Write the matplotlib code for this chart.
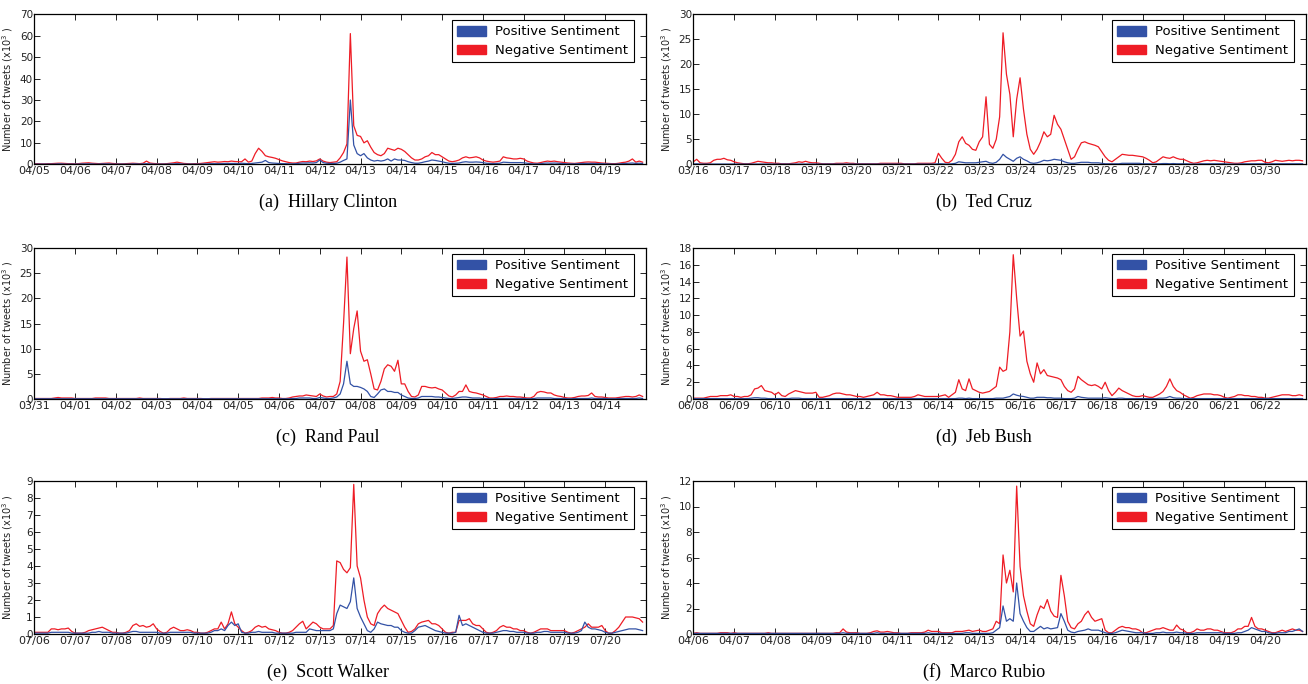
import numpy as np
import matplotlib
matplotlib.use("Agg")
import matplotlib.pyplot as plt
from matplotlib.patches import Patch

# ---------------- data (2-hour bins, 12 per day, 15 days) ----------------
clinton_days = ["04/05", "04/06", "04/07", "04/08", "04/09", "04/10", "04/11", "04/12",
                "04/13", "04/14", "04/15", "04/16", "04/17", "04/18", "04/19"]
clinton_neg = [
    0.3, 0.3, 0.2, 0.2, 0.3, 0.3, 0.4, 0.5, 0.5, 0.4, 0.3, 0.3,
    0.2, 0.3, 0.5, 0.6, 0.7, 0.5, 0.4, 0.3, 0.4, 0.5, 0.6, 0.4,
    0.3, 0.2, 0.2, 0.3, 0.4, 0.5, 0.4, 0.3, 0.5, 1.5, 0.6, 0.4,
    0.3, 0.2, 0.2, 0.3, 0.5, 0.7, 1.0, 0.7, 0.4, 0.3, 0.2, 0.3,
    0.3, 0.4, 0.6, 0.8, 1.0, 1.2, 1.0, 1.1, 1.3, 1.2, 1.5, 1.3,
    1.2, 1.2, 2.5, 1.0, 1.5, 5.0, 7.5, 6.0, 4.0, 3.5, 3.2, 2.8,
    2.2, 1.6, 1.2, 0.8, 0.6, 0.6, 1.0, 1.3, 1.2, 1.5, 1.3, 1.6,
    2.5, 1.5, 1.0, 0.8, 1.0, 1.2, 3.0, 5.5, 9.5, 61.0, 18.0, 13.5,
    13.0, 10.0, 11.0, 8.0, 5.5, 4.5, 4.0, 5.0, 7.5, 7.0, 6.5, 7.5,
    7.0, 6.0, 4.5, 3.0, 2.0, 2.0, 2.5, 3.5, 4.0, 5.5, 4.5, 4.5,
    3.5, 2.5, 1.5, 1.2, 1.5, 2.0, 3.0, 3.5, 3.0, 3.2, 3.5, 3.0,
    2.0, 1.5, 1.2, 1.0, 1.2, 1.5, 3.5, 3.0, 2.8, 2.5, 2.5, 2.8,
    2.5, 1.5, 1.0, 0.6, 0.5, 0.8, 1.2, 1.5, 1.3, 1.5, 1.2, 1.0,
    0.8, 0.6, 0.5, 0.4, 0.6, 0.8, 1.0, 1.1, 1.0, 1.0, 0.8, 0.6,
    0.5, 0.4, 0.3, 0.3, 0.5, 0.8, 1.0, 1.5, 2.5, 1.0, 1.5, 1.0,
]
clinton_pos = [
    0.1, 0.1, 0.1, 0.1, 0.1, 0.1, 0.1, 0.2, 0.2, 0.1, 0.1, 0.1,
    0.1, 0.1, 0.2, 0.2, 0.2, 0.2, 0.1, 0.1, 0.2, 0.2, 0.2, 0.1,
    0.1, 0.1, 0.1, 0.1, 0.1, 0.2, 0.2, 0.1, 0.2, 0.3, 0.2, 0.1,
    0.1, 0.1, 0.1, 0.1, 0.2, 0.2, 0.3, 0.2, 0.1, 0.1, 0.1, 0.1,
    0.1, 0.1, 0.2, 0.2, 0.3, 0.3, 0.3, 0.3, 0.4, 0.4, 0.4, 0.4,
    0.3, 0.5, 0.4, 0.3, 0.4, 0.6, 0.8, 1.0, 1.8, 0.8, 0.6, 0.5,
    0.4, 0.3, 0.3, 0.2, 0.2, 0.3, 0.5, 0.6, 0.6, 0.7, 0.6, 0.8,
    2.0, 0.8, 0.5, 0.4, 0.4, 0.5, 1.0, 1.8, 2.5, 30.0, 9.0, 5.0,
    4.0, 5.0, 3.0, 2.0, 1.5, 1.8, 1.5, 1.8, 2.5, 1.5, 2.5, 2.0,
    2.0, 1.8, 1.2, 0.8, 0.5, 0.5, 0.8, 1.2, 1.5, 2.0, 1.8, 1.5,
    1.2, 0.8, 0.5, 0.4, 0.5, 0.6, 1.0, 1.2, 1.0, 1.0, 1.1, 1.0,
    0.8, 0.5, 0.4, 0.3, 0.4, 0.5, 1.0, 0.9, 0.8, 0.8, 0.8, 0.8,
    0.7, 0.5, 0.3, 0.2, 0.2, 0.3, 0.5, 0.6, 0.5, 0.6, 0.5, 0.4,
    0.3, 0.2, 0.2, 0.2, 0.3, 0.4, 0.4, 0.4, 0.4, 0.4, 0.3, 0.3,
    0.2, 0.2, 0.1, 0.1, 0.2, 0.3, 0.4, 0.5, 0.6, 0.4, 0.5, 0.4,
]

cruz_days = ["03/16", "03/17", "03/18", "03/19", "03/20", "03/21", "03/22", "03/23",
             "03/24", "03/25", "03/26", "03/27", "03/28", "03/29", "03/30"]
cruz_neg = [
    0.5, 1.0, 0.3, 0.2, 0.2, 0.3, 0.8, 1.0, 1.0, 1.2, 0.9, 0.8,
    0.5, 0.3, 0.2, 0.1, 0.1, 0.2, 0.4, 0.6, 0.5, 0.4, 0.3, 0.3,
    0.2, 0.2, 0.1, 0.1, 0.1, 0.2, 0.3, 0.5, 0.4, 0.6, 0.4, 0.3,
    0.3, 0.2, 0.1, 0.1, 0.1, 0.1, 0.2, 0.2, 0.2, 0.3, 0.2, 0.2,
    0.1, 0.1, 0.1, 0.1, 0.1, 0.1, 0.1, 0.2, 0.2, 0.2, 0.2, 0.2,
    0.2, 0.2, 0.1, 0.1, 0.1, 0.1, 0.2, 0.2, 0.2, 0.2, 0.2, 0.3,
    2.2, 1.2, 0.4, 0.3, 0.8, 2.0, 4.5, 5.5, 4.2, 3.8, 3.0, 2.8,
    4.5, 5.5, 13.5, 4.0, 3.2, 5.0, 9.5, 26.3, 18.0, 14.0, 5.5, 13.0,
    17.3, 11.0, 6.0, 3.0, 2.0, 3.0, 4.5, 6.5, 5.5, 6.0, 9.8, 8.0,
    7.0, 5.0, 3.0, 1.0, 1.5, 3.0, 4.3, 4.5, 4.2, 4.0, 3.8, 3.5,
    2.5, 1.5, 0.8, 0.5, 1.0, 1.5, 2.0, 1.9, 1.8, 1.8, 1.7, 1.6,
    1.5, 1.2, 0.8, 0.3, 0.5, 1.0, 1.5, 1.3, 1.2, 1.5, 1.2, 1.0,
    1.0, 0.7, 0.4, 0.2, 0.3, 0.5, 0.7, 0.8, 0.7, 0.8, 0.7, 0.6,
    0.5, 0.4, 0.3, 0.2, 0.2, 0.3, 0.5, 0.6, 0.7, 0.7, 0.8, 0.8,
    0.4, 0.3, 0.5, 0.8, 0.7, 0.6, 0.7, 0.8, 0.7, 0.8, 0.8, 0.7,
]
cruz_pos = [
    0.05, 0.1, 0.05, 0.05, 0.05, 0.05, 0.05, 0.05, 0.05, 0.05, 0.05, 0.05,
    0.05, 0.05, 0.05, 0.05, 0.05, 0.05, 0.05, 0.05, 0.05, 0.05, 0.05, 0.05,
    0.05, 0.05, 0.05, 0.05, 0.05, 0.05, 0.05, 0.05, 0.05, 0.05, 0.05, 0.05,
    0.05, 0.05, 0.05, 0.05, 0.05, 0.05, 0.05, 0.05, 0.05, 0.05, 0.05, 0.05,
    0.05, 0.05, 0.05, 0.05, 0.05, 0.05, 0.05, 0.05, 0.05, 0.05, 0.05, 0.05,
    0.05, 0.05, 0.05, 0.05, 0.05, 0.05, 0.05, 0.05, 0.05, 0.05, 0.05, 0.05,
    0.1, 0.1, 0.05, 0.05, 0.1, 0.2, 0.5, 0.4, 0.3, 0.3, 0.3, 0.3,
    0.4, 0.5, 0.6, 0.3, 0.2, 0.4, 1.0, 2.0, 1.4, 1.0, 0.6, 1.2,
    1.5, 1.0, 0.7, 0.3, 0.2, 0.3, 0.5, 0.8, 0.7, 0.8, 1.0, 0.9,
    0.8, 0.5, 0.3, 0.2, 0.2, 0.3, 0.4, 0.4, 0.4, 0.3, 0.3, 0.3,
    0.2, 0.1, 0.1, 0.1, 0.1, 0.1, 0.2, 0.2, 0.2, 0.2, 0.2, 0.2,
    0.1, 0.1, 0.1, 0.05, 0.1, 0.1, 0.15, 0.15, 0.1, 0.15, 0.1, 0.1,
    0.1, 0.1, 0.05, 0.05, 0.05, 0.1, 0.1, 0.1, 0.1, 0.1, 0.1, 0.1,
    0.1, 0.05, 0.05, 0.05, 0.05, 0.1, 0.1, 0.1, 0.1, 0.1, 0.1, 0.1,
    0.1, 0.05, 0.1, 0.1, 0.1, 0.1, 0.1, 0.1, 0.1, 0.1, 0.1, 0.1,
]

paul_days = ["03/31", "04/01", "04/02", "04/03", "04/04", "04/05", "04/06", "04/07",
             "04/08", "04/09", "04/10", "04/11", "04/12", "04/13", "04/14"]
paul_neg = [
    0.1, 0.1, 0.1, 0.1, 0.1, 0.1, 0.2, 0.3, 0.2, 0.2, 0.2, 0.2,
    0.1, 0.1, 0.1, 0.1, 0.1, 0.1, 0.2, 0.2, 0.2, 0.2, 0.1, 0.1,
    0.1, 0.1, 0.1, 0.1, 0.1, 0.1, 0.1, 0.2, 0.1, 0.1, 0.1, 0.1,
    0.1, 0.1, 0.05, 0.05, 0.1, 0.1, 0.1, 0.1, 0.2, 0.1, 0.1, 0.1,
    0.1, 0.1, 0.05, 0.05, 0.1, 0.1, 0.1, 0.1, 0.1, 0.1, 0.1, 0.1,
    0.1, 0.1, 0.1, 0.1, 0.1, 0.1, 0.1, 0.2, 0.2, 0.2, 0.3, 0.2,
    0.2, 0.1, 0.1, 0.2, 0.4, 0.5, 0.6, 0.6, 0.8, 0.7, 0.6, 0.5,
    1.0, 0.6, 0.4, 0.5, 0.5, 1.0, 3.5, 15.0, 28.2, 9.0, 14.0, 17.5,
    9.5, 7.5, 7.8, 5.0, 2.0, 1.8, 3.5, 6.0, 6.8, 6.5, 5.5, 7.7,
    3.0, 3.0, 1.5, 0.5, 0.4, 0.8, 2.5, 2.5, 2.3, 2.2, 2.3, 2.0,
    1.8, 1.2, 0.6, 0.4, 0.8, 1.5, 1.5, 2.8, 1.5, 1.3, 1.2, 1.0,
    0.8, 0.5, 0.2, 0.2, 0.3, 0.5, 0.5, 0.6, 0.5, 0.5, 0.4, 0.4,
    0.3, 0.2, 0.2, 0.5, 1.3, 1.5, 1.4, 1.2, 1.2, 0.8, 0.6, 0.5,
    0.3, 0.2, 0.2, 0.3, 0.5, 0.6, 0.6, 0.7, 1.2, 0.5, 0.4, 0.4,
    0.3, 0.2, 0.2, 0.2, 0.3, 0.4, 0.5, 0.5, 0.4, 0.5, 0.8, 0.5,
]
paul_pos = [
    0.05, 0.05, 0.05, 0.05, 0.05, 0.05, 0.05, 0.05, 0.05, 0.05, 0.05, 0.05,
    0.05, 0.05, 0.05, 0.05, 0.05, 0.05, 0.05, 0.05, 0.05, 0.05, 0.05, 0.05,
    0.05, 0.05, 0.05, 0.05, 0.05, 0.05, 0.05, 0.05, 0.05, 0.05, 0.05, 0.05,
    0.05, 0.05, 0.05, 0.05, 0.05, 0.05, 0.05, 0.05, 0.05, 0.05, 0.05, 0.05,
    0.05, 0.05, 0.05, 0.05, 0.05, 0.05, 0.05, 0.05, 0.05, 0.05, 0.05, 0.05,
    0.05, 0.05, 0.05, 0.05, 0.05, 0.05, 0.05, 0.05, 0.05, 0.05, 0.05, 0.05,
    0.05, 0.05, 0.05, 0.05, 0.1, 0.1, 0.2, 0.2, 0.2, 0.2, 0.1, 0.1,
    0.3, 0.2, 0.1, 0.1, 0.2, 0.4, 1.0, 3.0, 7.5, 3.0, 2.5, 2.5,
    2.3, 2.0, 1.5, 0.5, 0.3, 1.0, 1.8, 2.0, 1.5, 1.5, 1.3, 1.3,
    0.8, 0.5, 0.2, 0.1, 0.1, 0.2, 0.5, 0.5, 0.5, 0.5, 0.4, 0.4,
    0.3, 0.2, 0.1, 0.1, 0.2, 0.3, 0.4, 0.4, 0.3, 0.2, 0.2, 0.2,
    0.1, 0.1, 0.05, 0.05, 0.1, 0.1, 0.1, 0.1, 0.1, 0.1, 0.1, 0.1,
    0.1, 0.05, 0.05, 0.1, 0.2, 0.2, 0.2, 0.2, 0.2, 0.1, 0.1, 0.1,
    0.1, 0.05, 0.05, 0.1, 0.1, 0.1, 0.1, 0.1, 0.2, 0.1, 0.1, 0.1,
    0.1, 0.05, 0.05, 0.05, 0.1, 0.1, 0.1, 0.1, 0.1, 0.1, 0.2, 0.1,
]

bush_days = ["06/08", "06/09", "06/10", "06/11", "06/12", "06/13", "06/14", "06/15",
             "06/16", "06/17", "06/18", "06/19", "06/20", "06/21", "06/22"]
bush_neg = [
    0.1, 0.1, 0.1, 0.1, 0.2, 0.3, 0.3, 0.3, 0.4, 0.4, 0.4, 0.5,
    0.3, 0.3, 0.2, 0.3, 0.3, 0.5, 1.2, 1.3, 1.6, 1.0, 0.9, 0.8,
    0.5, 0.8, 0.4, 0.3, 0.6, 0.8, 1.0, 0.9, 0.8, 0.7, 0.7, 0.7,
    0.8, 0.2, 0.2, 0.3, 0.4, 0.6, 0.7, 0.7, 0.6, 0.5, 0.5, 0.4,
    0.3, 0.3, 0.2, 0.3, 0.4, 0.5, 0.8, 0.5, 0.5, 0.4, 0.4, 0.3,
    0.2, 0.2, 0.2, 0.2, 0.2, 0.3, 0.5, 0.4, 0.3, 0.3, 0.3, 0.3,
    0.3, 0.4, 0.5, 0.2, 0.5, 0.8, 2.3, 1.2, 1.0, 2.4, 1.2, 1.0,
    0.8, 0.7, 0.8, 0.9, 1.2, 1.5, 3.8, 3.3, 3.5, 8.0, 17.2, 12.0,
    7.5, 8.1, 4.5, 3.0, 2.0, 4.3, 3.0, 3.5, 2.8, 2.7, 2.6, 2.5,
    2.3, 1.5, 1.0, 0.8, 1.2, 2.7, 2.3, 2.0, 1.7, 1.6, 1.7, 1.5,
    1.2, 2.0, 1.0, 0.4, 0.8, 1.3, 1.0, 0.8, 0.6, 0.4, 0.3, 0.3,
    0.4, 0.3, 0.2, 0.2, 0.4, 0.6, 0.9, 1.5, 2.4, 1.5, 1.0, 0.8,
    0.5, 0.3, 0.1, 0.2, 0.4, 0.5, 0.6, 0.6, 0.6, 0.5, 0.5, 0.4,
    0.2, 0.1, 0.2, 0.3, 0.5, 0.5, 0.4, 0.4, 0.3, 0.3, 0.2, 0.2,
    0.1, 0.1, 0.2, 0.3, 0.4, 0.5, 0.5, 0.5, 0.4, 0.4, 0.5, 0.4,
]
bush_pos = [
    0.05, 0.05, 0.05, 0.05, 0.05, 0.05, 0.05, 0.05, 0.05, 0.05, 0.05, 0.05,
    0.05, 0.05, 0.05, 0.05, 0.05, 0.1, 0.15, 0.15, 0.1, 0.1, 0.05, 0.05,
    0.05, 0.05, 0.05, 0.05, 0.05, 0.1, 0.1, 0.1, 0.05, 0.05, 0.05, 0.05,
    0.05, 0.05, 0.05, 0.05, 0.05, 0.05, 0.05, 0.05, 0.05, 0.05, 0.05, 0.05,
    0.05, 0.05, 0.05, 0.05, 0.05, 0.05, 0.05, 0.05, 0.05, 0.05, 0.05, 0.05,
    0.05, 0.05, 0.05, 0.05, 0.05, 0.05, 0.05, 0.05, 0.05, 0.05, 0.05, 0.05,
    0.05, 0.05, 0.05, 0.05, 0.05, 0.05, 0.1, 0.1, 0.05, 0.1, 0.05, 0.05,
    0.05, 0.05, 0.05, 0.05, 0.05, 0.1, 0.1, 0.1, 0.2, 0.3, 0.6, 0.45,
    0.35, 0.3, 0.2, 0.1, 0.1, 0.2, 0.2, 0.2, 0.15, 0.15, 0.1, 0.1,
    0.1, 0.05, 0.05, 0.05, 0.1, 0.3, 0.2, 0.15, 0.1, 0.1, 0.1, 0.1,
    0.1, 0.15, 0.1, 0.05, 0.05, 0.1, 0.1, 0.05, 0.05, 0.05, 0.05, 0.05,
    0.05, 0.05, 0.05, 0.05, 0.05, 0.1, 0.1, 0.15, 0.3, 0.15, 0.1, 0.1,
    0.05, 0.05, 0.05, 0.05, 0.05, 0.05, 0.05, 0.05, 0.05, 0.05, 0.05, 0.05,
    0.05, 0.05, 0.05, 0.05, 0.05, 0.05, 0.05, 0.05, 0.05, 0.05, 0.05, 0.05,
    0.05, 0.05, 0.05, 0.05, 0.05, 0.05, 0.05, 0.05, 0.05, 0.05, 0.05, 0.05,
]

walker_days = ["07/06", "07/07", "07/08", "07/09", "07/10", "07/11", "07/12", "07/13",
               "07/14", "07/15", "07/16", "07/17", "07/18", "07/19", "07/20"]
walker_neg = [
    0.1, 0.1, 0.1, 0.1, 0.1, 0.3, 0.3, 0.25, 0.3, 0.3, 0.35, 0.15,
    0.05, 0.05, 0.05, 0.1, 0.2, 0.25, 0.3, 0.35, 0.4, 0.3, 0.2, 0.1,
    0.1, 0.05, 0.05, 0.1, 0.2, 0.5, 0.6, 0.45, 0.5, 0.4, 0.45, 0.6,
    0.3, 0.15, 0.05, 0.1, 0.3, 0.4, 0.3, 0.2, 0.2, 0.25, 0.2, 0.1,
    0.1, 0.05, 0.05, 0.1, 0.2, 0.3, 0.3, 0.7, 0.3, 0.6, 1.3, 0.6,
    0.4, 0.2, 0.05, 0.1, 0.2, 0.4, 0.5, 0.4, 0.45, 0.3, 0.25, 0.2,
    0.1, 0.05, 0.05, 0.1, 0.2, 0.4, 0.6, 0.75, 0.3, 0.5, 0.7, 0.6,
    0.4, 0.3, 0.3, 0.3, 0.5, 4.3, 4.2, 3.8, 3.6, 3.9, 8.8, 4.0,
    3.3, 2.0, 1.0, 0.6, 0.5, 1.2, 1.5, 1.7, 1.5, 1.4, 1.3, 1.2,
    0.8, 0.4, 0.1, 0.15, 0.3, 0.6, 0.7, 0.75, 0.8, 0.6, 0.6, 0.5,
    0.3, 0.1, 0.05, 0.1, 0.1, 0.8, 0.8, 0.8, 0.9, 0.6, 0.5, 0.5,
    0.3, 0.1, 0.05, 0.1, 0.2, 0.4, 0.5, 0.4, 0.4, 0.3, 0.3, 0.2,
    0.2, 0.1, 0.05, 0.1, 0.2, 0.3, 0.3, 0.3, 0.2, 0.2, 0.2, 0.2,
    0.2, 0.1, 0.05, 0.1, 0.2, 0.3, 0.4, 0.6, 0.4, 0.4, 0.4, 0.5,
    0.2, 0.05, 0.05, 0.2, 0.4, 0.7, 1.0, 1.0, 1.0, 0.95, 0.9, 0.7,
]
walker_pos = [
    0.05, 0.05, 0.05, 0.05, 0.05, 0.1, 0.1, 0.1, 0.1, 0.1, 0.1, 0.05,
    0.05, 0.05, 0.05, 0.05, 0.05, 0.1, 0.1, 0.15, 0.1, 0.1, 0.1, 0.05,
    0.05, 0.05, 0.05, 0.05, 0.1, 0.15, 0.15, 0.1, 0.1, 0.1, 0.1, 0.1,
    0.1, 0.05, 0.05, 0.05, 0.1, 0.1, 0.1, 0.1, 0.1, 0.1, 0.1, 0.05,
    0.05, 0.05, 0.05, 0.05, 0.1, 0.2, 0.2, 0.3, 0.2, 0.5, 0.7, 0.5,
    0.6, 0.1, 0.05, 0.05, 0.1, 0.1, 0.15, 0.1, 0.1, 0.1, 0.1, 0.05,
    0.05, 0.05, 0.05, 0.05, 0.05, 0.1, 0.1, 0.1, 0.1, 0.3, 0.25, 0.2,
    0.2, 0.2, 0.2, 0.2, 0.3, 1.2, 1.7, 1.6, 1.5, 1.9, 3.3, 1.5,
    1.0, 0.6, 0.2, 0.1, 0.3, 0.7, 0.6, 0.55, 0.5, 0.5, 0.4, 0.4,
    0.2, 0.1, 0.05, 0.05, 0.2, 0.4, 0.45, 0.5, 0.4, 0.3, 0.2, 0.15,
    0.1, 0.05, 0.05, 0.05, 0.1, 1.1, 0.5, 0.6, 0.5, 0.4, 0.3, 0.2,
    0.1, 0.05, 0.05, 0.05, 0.1, 0.15, 0.2, 0.2, 0.15, 0.15, 0.1, 0.1,
    0.1, 0.05, 0.05, 0.05, 0.1, 0.1, 0.15, 0.15, 0.1, 0.1, 0.1, 0.1,
    0.1, 0.05, 0.05, 0.05, 0.1, 0.2, 0.7, 0.4, 0.3, 0.3, 0.25, 0.2,
    0.1, 0.05, 0.05, 0.1, 0.15, 0.2, 0.25, 0.3, 0.3, 0.3, 0.25, 0.2,
]

rubio_days = ["04/06", "04/07", "04/08", "04/09", "04/10", "04/11", "04/12", "04/13",
              "04/14", "04/15", "04/16", "04/17", "04/18", "04/19", "04/20"]
rubio_neg = [
    0.05, 0.1, 0.05, 0.05, 0.05, 0.05, 0.05, 0.05, 0.1, 0.1, 0.1, 0.05,
    0.1, 0.05, 0.05, 0.05, 0.05, 0.05, 0.05, 0.05, 0.05, 0.05, 0.1, 0.05,
    0.05, 0.05, 0.05, 0.05, 0.05, 0.05, 0.05, 0.05, 0.05, 0.05, 0.05, 0.05,
    0.05, 0.05, 0.05, 0.05, 0.05, 0.05, 0.1, 0.1, 0.4, 0.15, 0.1, 0.1,
    0.1, 0.05, 0.05, 0.05, 0.1, 0.2, 0.25, 0.15, 0.15, 0.2, 0.15, 0.1,
    0.1, 0.05, 0.05, 0.05, 0.1, 0.1, 0.1, 0.1, 0.15, 0.3, 0.2, 0.2,
    0.2, 0.1, 0.1, 0.1, 0.1, 0.2, 0.2, 0.2, 0.25, 0.3, 0.2, 0.25,
    0.3, 0.2, 0.2, 0.3, 0.4, 1.0, 0.8, 6.2, 4.0, 5.0, 3.3, 11.6,
    5.3, 3.0, 1.8, 0.8, 0.6, 1.5, 2.2, 2.0, 2.7, 1.8, 1.4, 1.3,
    4.6, 3.0, 1.0, 0.5, 0.4, 0.8, 1.0, 1.5, 1.8, 1.3, 1.0, 1.1,
    1.2, 0.3, 0.1, 0.1, 0.3, 0.5, 0.6, 0.5, 0.5, 0.4, 0.4, 0.3,
    0.1, 0.1, 0.2, 0.3, 0.4, 0.4, 0.5, 0.4, 0.3, 0.3, 0.7, 0.4,
    0.3, 0.1, 0.1, 0.2, 0.4, 0.3, 0.3, 0.4, 0.4, 0.3, 0.3, 0.2,
    0.1, 0.1, 0.1, 0.2, 0.4, 0.4, 0.6, 0.6, 1.3, 0.6, 0.4, 0.4,
    0.3, 0.2, 0.1, 0.1, 0.2, 0.3, 0.2, 0.3, 0.4, 0.3, 0.3, 0.2,
]
rubio_pos = [
    0.05, 0.05, 0.05, 0.05, 0.05, 0.05, 0.05, 0.05, 0.05, 0.05, 0.05, 0.05,
    0.05, 0.05, 0.05, 0.05, 0.05, 0.05, 0.05, 0.05, 0.05, 0.05, 0.05, 0.05,
    0.05, 0.05, 0.05, 0.05, 0.05, 0.05, 0.05, 0.05, 0.05, 0.05, 0.05, 0.05,
    0.05, 0.05, 0.05, 0.05, 0.05, 0.05, 0.05, 0.05, 0.1, 0.05, 0.05, 0.05,
    0.05, 0.05, 0.05, 0.05, 0.05, 0.05, 0.1, 0.05, 0.05, 0.05, 0.05, 0.05,
    0.05, 0.05, 0.05, 0.05, 0.05, 0.05, 0.05, 0.05, 0.05, 0.1, 0.05, 0.05,
    0.05, 0.05, 0.05, 0.05, 0.05, 0.05, 0.05, 0.05, 0.1, 0.1, 0.05, 0.05,
    0.05, 0.05, 0.05, 0.05, 0.1, 0.3, 0.5, 2.2, 1.0, 1.2, 1.0, 4.0,
    1.6, 1.0, 0.5, 0.2, 0.2, 0.4, 0.6, 0.4, 0.5, 0.4, 0.45, 0.5,
    1.6, 1.0, 0.3, 0.15, 0.1, 0.2, 0.25, 0.3, 0.4, 0.3, 0.3, 0.3,
    0.2, 0.1, 0.05, 0.05, 0.1, 0.2, 0.3, 0.25, 0.2, 0.15, 0.1, 0.1,
    0.1, 0.05, 0.05, 0.05, 0.1, 0.1, 0.15, 0.1, 0.1, 0.1, 0.15, 0.1,
    0.1, 0.05, 0.05, 0.05, 0.1, 0.1, 0.1, 0.1, 0.1, 0.1, 0.1, 0.1,
    0.05, 0.05, 0.05, 0.05, 0.1, 0.1, 0.2, 0.3, 0.5, 0.4, 0.3, 0.2,
    0.2, 0.1, 0.05, 0.05, 0.1, 0.1, 0.1, 0.2, 0.2, 0.3, 0.4, 0.2,
]

captions = ["(a)  Hillary Clinton", "(b)  Ted Cruz", "(c)  Rand Paul",
            "(d)  Jeb Bush", "(e)  Scott Walker", "(f)  Marco Rubio"]
y_max = [70, 30, 30, 18, 9, 12]
y_step = [10, 5, 5, 2, 1, 2]

# ---------------- style ----------------
BLUE = "#3352a6"
RED = "#ee1c25"
BINS_PER_DAY = 12

panel_series = [
    (clinton_days, clinton_pos, clinton_neg),
    (cruz_days, cruz_pos, cruz_neg),
    (paul_days, paul_pos, paul_neg),
    (bush_days, bush_pos, bush_neg),
    (walker_days, walker_pos, walker_neg),
    (rubio_days, rubio_pos, rubio_neg),
]

W, H = 1308, 684
fig = plt.figure(figsize=(W / 100, H / 100), dpi=100)

col_left = [34.3, 693.3]
col_right = [646.0, 1306.0]
row_top = [14.3, 248.0, 481.0]
row_bot = [164.3, 399.0, 634.0]
cap_x = [328, 984]
cap_y = [202, 437, 672]

for i, (days, pos, neg) in enumerate(panel_series):
    r, c = divmod(i, 2)
    x0 = col_left[c] / W
    w = (col_right[c] - col_left[c]) / W
    y0 = 1 - row_bot[r] / H
    h = (row_bot[r] - row_top[r]) / H
    ax = fig.add_axes([x0, y0, w, h])
    t = np.arange(len(neg)) / BINS_PER_DAY
    ax.plot(t, neg, color=RED, lw=0.9)
    ax.plot(t, pos, color=BLUE, lw=0.9)
    ax.set_xlim(0, len(days))
    ax.set_ylim(0, y_max[i])
    ax.set_xticks(np.arange(len(days)))
    ax.set_xticklabels(days)
    ax.set_yticks(np.arange(0, y_max[i] + 0.5, y_step[i]))
    ax.tick_params(direction="in", top=True, right=True, length=4, width=0.6,
                   colors="black", pad=1.5)
    ax.tick_params(axis="x", labelsize=8, labelcolor="#222222")
    ax.tick_params(axis="y", labelsize=7.5, labelcolor="#222222", pad=1)
    for sp in ax.spines.values():
        sp.set_linewidth(0.9)
        sp.set_color("black")
    ax.set_ylabel("Number of tweets (x10$^3$ )", fontsize=7, color="#222222")
    ax.yaxis.set_label_coords(-0.031, 0.5)
    handles = [Patch(facecolor=BLUE, edgecolor=BLUE, label="Positive Sentiment"),
               Patch(facecolor=RED, edgecolor=RED, label="Negative Sentiment")]
    leg = ax.legend(handles=handles, loc="upper right",
                    bbox_to_anchor=(0.980, 0.962), borderaxespad=0,
                    fontsize=9.5, fancybox=False, framealpha=1,
                    edgecolor="black", handlelength=2.2, handleheight=0.75,
                    handletextpad=0.7, labelspacing=0.45, borderpad=0.4)
    leg.get_frame().set_linewidth(0.8)
    fig.text(cap_x[c] / W, 1 - cap_y[r] / H, captions[i], ha="center", va="center",
             fontsize=13, family="Liberation Serif")

fig.savefig("out.png", dpi=100)
